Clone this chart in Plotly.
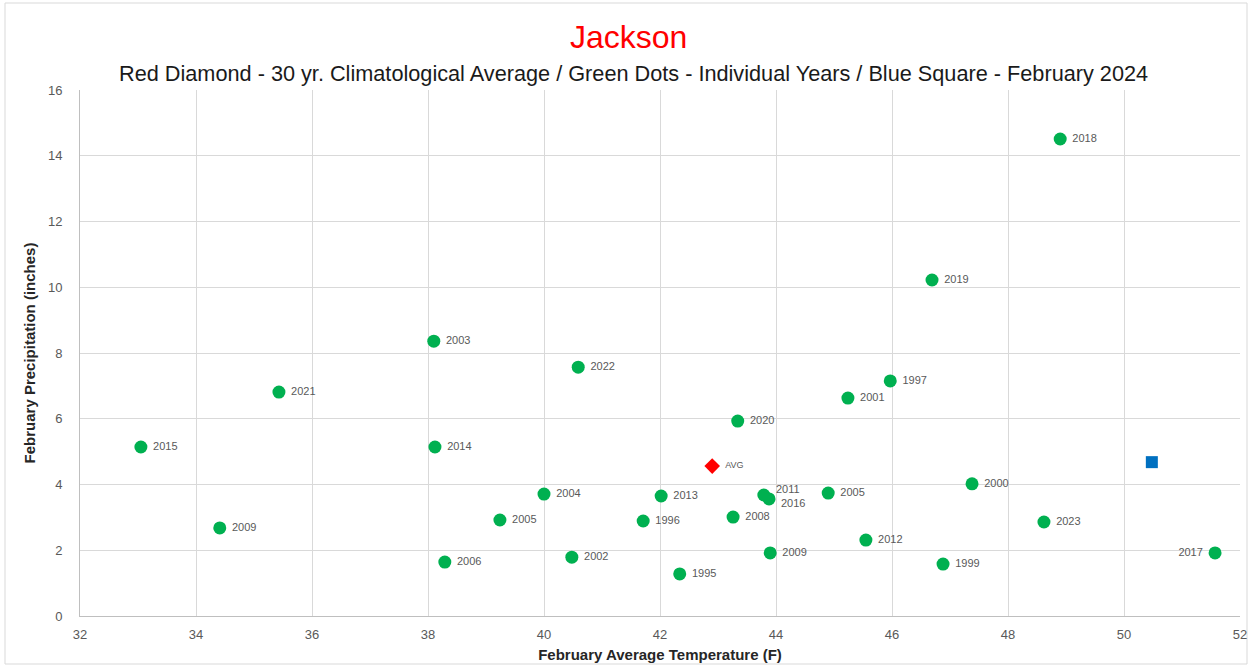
import plotly.graph_objects as go

# Individual years
years = ["2018", "2019", "2003", "2022", "2021", "1997", "2001", "2020", "2015", "2014",
         "2000", "2004", "2005", "2011", "2016", "2013", "2005", "1996", "2008", "2023",
         "2009", "2012", "2009", "2017", "2002", "2006", "1999", "1995"]
temps = [48.9, 46.69, 38.10, 40.59, 35.43, 45.97, 45.24, 43.34, 33.05, 38.12,
         47.38, 40.0, 44.9, 43.79, 43.88, 42.02, 39.24, 41.71, 43.26, 48.62,
         34.41, 45.55, 43.9, 51.57, 40.48, 38.29, 46.88, 42.34]
precip = [14.51, 10.22, 8.36, 7.57, 6.81, 7.15, 6.63, 5.93, 5.14, 5.14,
          4.02, 3.71, 3.74, 3.68, 3.56, 3.65, 2.92, 2.89, 3.01, 2.86,
          2.68, 2.31, 1.92, 1.92, 1.79, 1.64, 1.58, 1.28]

avg_temp = [42.9]
avg_precip = [4.56]
cur_temp = [50.48]
cur_precip = [4.68]

x_ticks = list(range(32, 53, 2))
y_ticks = list(range(0, 17, 2))

# labels shown as scatter text, except the crowded pair handled with annotations
special = {"2011": (0, 6), "2016": (0, -4)}
label_text = []
label_pos = []
for y in years:
    label_text.append("" if y in special else " " + y + " ")
    label_pos.append("middle left" if y == "2017" else "middle right")

label_font = dict(family="Liberation Sans", size=11, color="#595959")

fig = go.Figure()
fig.add_trace(go.Scatter(
    x=temps, y=precip, mode="markers+text", text=label_text,
    textposition=label_pos, textfont=label_font,
    marker=dict(symbol="circle", size=13, color="#00b050"),
    showlegend=False, cliponaxis=False))
fig.add_trace(go.Scatter(
    x=avg_temp, y=avg_precip, mode="markers+text", text=["  AVG"],
    textposition="middle right",
    textfont=dict(family="Liberation Sans", size=9, color="#595959"),
    marker=dict(symbol="diamond", size=12, color="#ff0000"),
    showlegend=False))
fig.add_trace(go.Scatter(
    x=cur_temp, y=cur_precip, mode="markers",
    marker=dict(symbol="square", size=12, color="#0070c0"),
    showlegend=False))

annotations = []
for y, tx, py in zip(years, temps, precip):
    if y in special:
        annotations.append(dict(x=tx, y=py, xref="x", yref="y", text=y, showarrow=False,
                                xanchor="left", yanchor="middle", xshift=10,
                                yshift=special[y][1], font=label_font))

annotations += [
    dict(text="Jackson", x=0.473, y=1.0, xref="paper", yref="paper",
         yshift=53, showarrow=False, xanchor="center", yanchor="middle",
         font=dict(family="Liberation Sans Narrow, Liberation Sans", size=32, color="#ff0000")),
    dict(text="Red Diamond - 30 yr. Climatological Average / Green Dots - Individual Years / Blue Square - February 2024",
         x=0.477, y=1.0, xref="paper", yref="paper", yshift=17, showarrow=False,
         xanchor="center", yanchor="middle",
         font=dict(family="Liberation Sans Narrow, Liberation Sans", size=21.7, color="#1a1a1a")),
]

W, H = 1251, 667
L, R, T, B = 80, 11, 90, 51
pw, ph = W - L - R, H - T - B

fig.update_layout(
    width=W, height=H,
    margin=dict(l=L, r=R, t=T, b=B, autoexpand=False),
    paper_bgcolor="white", plot_bgcolor="white",
    font=dict(family="Liberation Sans", color="#595959"),
    annotations=annotations,
    shapes=[dict(type="rect", xref="paper", yref="paper",
                 x0=(5 - L) / pw, x1=(1247 - L) / pw,
                 y0=(H - B - 664) / ph, y1=(H - B - 3) / ph,
                 line=dict(color="#d9d9d9", width=1), layer="below")],
)
fig.update_xaxes(
    range=[32, 52], tickvals=x_ticks, showgrid=True, gridcolor="#d9d9d9", gridwidth=1,
    showline=True, linecolor="#bfbfbf", zeroline=False, ticks="", automargin=False,
    ticklabelstandoff=6,
    tickfont=dict(size=13, color="#595959"),
    title=dict(text="<b>February Average Temperature (F)</b>", standoff=8,
               font=dict(size=15, color="#262626")))
fig.update_yaxes(
    range=[0, 16], tickvals=y_ticks, showgrid=True, gridcolor="#d9d9d9", gridwidth=1,
    showline=True, linecolor="#bfbfbf", zeroline=False, ticks="", automargin=False,
    ticklabelstandoff=14,
    tickfont=dict(size=13, color="#595959"),
    title=dict(text="<b>February Precipitation (inches)</b>", standoff=8,
               font=dict(size=15, color="#262626")))

fig.write_html("out.html", config={"displayModeBar": False},
               post_script="document.body.style.margin='0';document.body.style.overflow='hidden';")
